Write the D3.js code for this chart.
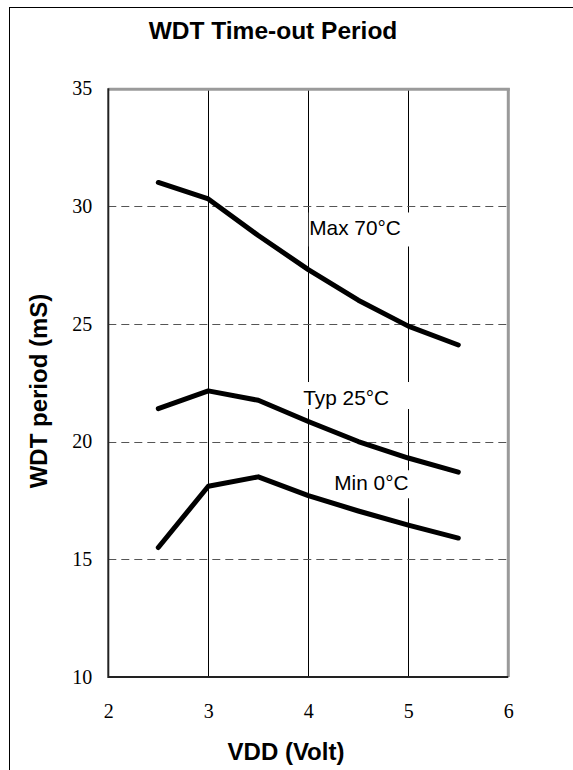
<!DOCTYPE html>
<html>
<head>
<meta charset="utf-8">
<script src="https://cdn.jsdelivr.net/npm/d3@7"></script>
<style>
  body { margin: 0; background: #fff; }
  svg { display: block; }
</style>
</head>
<body>
<div id="chart"></div>
<script>
// values
const vdd = [2.5, 3, 3.5, 4, 4.5, 5, 5.5];
const maxPeriod = [31.0, 30.3, 28.75, 27.3, 26.0, 24.9, 24.1];
const typPeriod = [21.4, 22.15, 21.75, 20.85, 20.0, 19.3, 18.7];
const minPeriod = [15.5, 18.1, 18.5, 17.7, 17.05, 16.45, 15.9];

const seriesNames = ["Max 70\u00b0C", "Typ 25\u00b0C", "Min 0\u00b0C"];
// label anchor (left edge / baseline) in data units
const labelVdd = [4.01, 3.95, 4.26];
const labelPeriod = [28.75, 21.55, 17.93];

const xTicks = [2, 3, 4, 5, 6];
const yTicks = [10, 15, 20, 25, 30, 35];
const xGrid = [3, 4, 5];
const yGrid = [15, 20, 25, 30];

const width = 573, height = 770;
const plot = { left: 108.3, right: 508.3, top: 88.3, bottom: 677 };

const svg = d3.select("#chart")
    .append("svg")
    .attr("width", width)
    .attr("height", height);

// outer frame (runs off the right / bottom of the picture)
svg.append("rect")
    .attr("x", 9.5)
    .attr("y", 7.5)
    .attr("width", 640)
    .attr("height", 800)
    .attr("fill", "none")
    .attr("stroke", "#000")
    .attr("stroke-width", 1);

const x = d3.scaleLinear().domain([2, 6]).range([plot.left, plot.right]);
const y = d3.scaleLinear().domain([10, 35]).range([plot.bottom, plot.top]);

// gridlines
svg.append("g")
    .selectAll("line")
    .data(xGrid)
    .join("line")
    .attr("x1", d => Math.round(x(d)) + 0.5)
    .attr("x2", d => Math.round(x(d)) + 0.5)
    .attr("y1", y(35))
    .attr("y2", y(10))
    .attr("stroke", "#000")
    .attr("stroke-width", 1);

svg.append("g")
    .selectAll("line")
    .data(yGrid)
    .join("line")
    .attr("x1", x(2))
    .attr("x2", x(6))
    .attr("y1", d => Math.round(y(d)) + 0.5)
    .attr("y2", d => Math.round(y(d)) + 0.5)
    .attr("stroke", "#555")
    .attr("stroke-width", 1)
    .attr("stroke-dasharray", "8,5");

// white boxes behind the curve labels
const boxPad = [
    { l: 0.5, r: 103, t: 23, b: 11 },
    { l: 3, r: 109, t: 23, b: 4 },
    { l: 4, r: 78, t: 20, b: 8 }
];
const labelGroup = svg.append("g");
labelGroup.selectAll("rect")
    .data(seriesNames)
    .join("rect")
    .attr("x", (d, i) => x(labelVdd[i]) - boxPad[i].l)
    .attr("y", (d, i) => y(labelPeriod[i]) - boxPad[i].t)
    .attr("width", (d, i) => boxPad[i].l + boxPad[i].r)
    .attr("height", (d, i) => boxPad[i].t + boxPad[i].b)
    .attr("fill", "#fff");

labelGroup.selectAll("text")
    .data(seriesNames)
    .join("text")
    .attr("x", (d, i) => x(labelVdd[i]))
    .attr("y", (d, i) => y(labelPeriod[i]))
    .attr("font-family", "Liberation Sans, Arial, sans-serif")
    .attr("font-size", 20.8)
    .attr("fill", "#000")
    .text(d => d);

// curves
const line = d3.line()
    .x(d => x(d[0]))
    .y(d => y(d[1]));

[maxPeriod, typPeriod, minPeriod].forEach(vals => {
    svg.append("path")
        .datum(vdd.map((v, i) => [v, vals[i]]))
        .attr("d", line)
        .attr("fill", "none")
        .attr("stroke", "#000")
        .attr("stroke-width", 5)
        .attr("stroke-linejoin", "round")
        .attr("stroke-linecap", "round");
});

// plot frame: light top/right, dark left/bottom
svg.append("line")
    .attr("x1", x(2)).attr("x2", x(6) + 1.5)
    .attr("y1", y(35) + 1).attr("y2", y(35) + 1)
    .attr("stroke", "#9a9a9a").attr("stroke-width", 3);
svg.append("line")
    .attr("x1", x(6)).attr("x2", x(6))
    .attr("y1", y(35)).attr("y2", y(10))
    .attr("stroke", "#9a9a9a").attr("stroke-width", 3);
svg.append("line")
    .attr("x1", x(2)).attr("x2", x(2))
    .attr("y1", y(35)).attr("y2", y(10) + 1)
    .attr("stroke", "#222").attr("stroke-width", 2);
svg.append("line")
    .attr("x1", x(2)).attr("x2", x(6))
    .attr("y1", y(10)).attr("y2", y(10))
    .attr("stroke", "#222").attr("stroke-width", 2);

// axes (labels only)
const xAxis = svg.append("g")
    .attr("transform", `translate(0,${plot.bottom})`)
    .call(d3.axisBottom(x).tickValues(xTicks).tickSize(0).tickPadding(27).tickFormat(d3.format("d")));
const yAxis = svg.append("g")
    .attr("transform", `translate(${plot.left},0)`)
    .call(d3.axisLeft(y).tickValues(yTicks).tickSize(0).tickPadding(16).tickFormat(d3.format("d")));

[xAxis, yAxis].forEach(g => {
    g.select(".domain").remove();
    g.selectAll("text")
        .attr("font-family", "Liberation Serif, Times New Roman, serif")
        .attr("font-size", 20)
        .attr("fill", "#000");
});

// titles
svg.append("text")
    .attr("x", 273)
    .attr("y", 39)
    .attr("text-anchor", "middle")
    .attr("font-family", "Liberation Sans, Arial, sans-serif")
    .attr("font-weight", "bold")
    .attr("font-size", 24.5)
    .text("WDT Time-out Period");

svg.append("text")
    .attr("x", 286)
    .attr("y", 760)
    .attr("text-anchor", "middle")
    .attr("font-family", "Liberation Sans, Arial, sans-serif")
    .attr("font-weight", "bold")
    .attr("font-size", 24)
    .text("VDD (Volt)");

svg.append("text")
    .attr("transform", "translate(47,391) rotate(-90)")
    .attr("text-anchor", "middle")
    .attr("font-family", "Liberation Sans, Arial, sans-serif")
    .attr("font-weight", "bold")
    .attr("font-size", 24)
    .text("WDT period (mS)");
</script>
</body>
</html>
